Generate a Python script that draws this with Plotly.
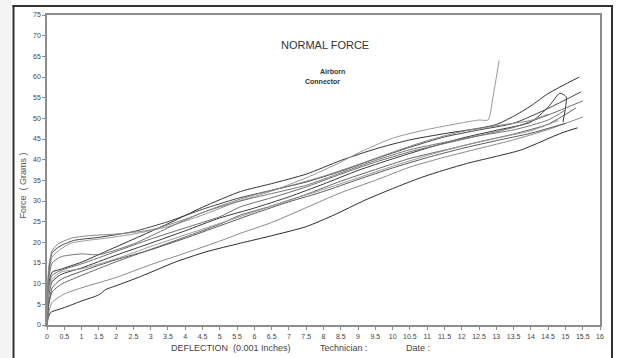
import plotly.graph_objects as go

# ---- data (deflection in 0.001 in, force in grams) ----
xA = [0,0.03,0.1,0.5,1,1.5,1.7,2,2.7,3.3,3.7,4.6,5.6,6.5,7.5,8.3,9.2,10,10.8,11.5,12.2,13,13.7,14.2,14.9,15.35]
yA = [0,1.5,3,4.2,5.8,7.3,8.6,9.5,11.7,13.8,15.2,17.7,19.8,21.6,23.8,26.6,30.2,33,35.6,37.5,39.2,40.8,42.3,44,46.5,47.7]
xB = [0,0.05,0.15,0.5,1,2,3,4,5,5.6,6.5,7.5,8.5,9.5,10.5,11.5,12.5,13.5,14.5,15.5]
yB = [0,3,5.5,7.5,9,11.5,14.6,17.4,20.3,22.2,24.8,28.4,32,35,38.2,40.6,42.7,44.8,47.3,50.3]
xC = [0,0.05,0.15,0.4,1,2,3,4,5,5.6,6.5,7.5,8.5,9.5,10.5,11.5,12.5,13.5,14.5,15.3]
yC = [0,5,8,9.8,12,15.3,18.3,21.3,24.4,26.6,28.8,31.6,34.8,37.6,40.3,42.3,44.3,46.2,48.6,52.5]
xD = [0,0.05,0.15,0.4,1,2,3,4,5,6,7,8,9,10,11,12,13,14,14.5,14.84,15.02,14.93]
yD = [0,7,10.5,12.2,13.8,16.9,19.8,22.8,25.9,28.3,31,34.1,37.4,40.2,42.8,45.2,47.1,49.1,52.7,56.1,55.2,49.1]
xE = [0,0.05,0.15,0.4,1,2,3,4,5,5.6,6.5,7.5,8.5,9.5,10.5,11.5,12.5,13.5,14.5,15.5]
yE = [0,9,12,13.2,14.8,17.8,20.8,23.5,26.2,28.6,30.8,33.4,36.5,39.4,41.9,43.9,45.8,47.8,50.8,54.2]
xF = [0,0.05,0.15,0.4,1,1.7,2.7,3.5,4.5,5.6,6.5,7.5,8.5,9.5,10.5,11.5,12.5,13,13.5,14,14.5,15.4]
yF = [0,10,12.8,13.5,15.2,17.8,21.5,24.5,28.5,32.3,34.2,36.5,39.8,42.6,44.8,46.3,47.6,48.5,50.5,53,56,60]
xG = [0,0.05,0.15,0.4,0.7,1.2,1.7,2.5,3.5,4.5,5.5,6.5,7.5,8.5,9,10,11,12,12.5,12.76,12.9,13.08]
yG = [0,12,16.5,18.4,19.8,20.5,21,22,23.8,26.6,29.8,32.4,35.6,39.4,41.6,45.2,47.3,48.9,49.6,49.6,55,64]
xH = [0,0.05,0.15,0.4,0.8,1.5,2.5,3.5,4.5,5.5,6.5,7.5,8.5,9.5,10.5,11.5,12.5,13.5,14.5,15.45]
yH = [0,13,17.5,19.2,20.5,21.2,22.6,25,28,30.6,32.6,34.6,37.2,40.2,43,45.5,47.2,48.8,52.4,56.4]
xI = [0,0.05,0.15,0.4,1,1.5,2.5,3.5,4.5,5.5,6.5,7.5,8.5,9.5,10.5,11.5,12.5,13.5,14.5,15.0]
yI = [0,11,15,16.5,17.2,17,19.6,23.5,27.2,29.8,31.8,33.8,36.8,39.8,42.4,44.2,45.8,47.2,49.6,52]
xJ = [0,0.05,0.15,0.4,1,2,3,4,5,6,7,8,9,10,11,12,13,14,14.8]
yJ = [0,8,11,12.8,13.6,16,19,21.8,24.6,27.4,30.2,32.8,35.6,38.4,41,43.3,45.2,47,49.5]
xK = [0,0.05,0.15,0.4,1,2,3,4,5,6,7,8,9,10,11,12,13,14,15]
yK = [0,5,9,11,13,15.8,18.2,21,24,27,29.8,32.3,35.2,38,40.5,42.7,44.6,46.4,48.8]
xL = [0,0.05,0.15,0.3,0.7,1.2,2,3,4,5,6,7,8,9,10,11,12,13,14,14.5]
yL = [0,14,18,19.5,21,21.6,22,23,25.6,28.8,31.5,33.6,36,38.8,41.8,44.6,46.8,48.2,49.5,51]

series = [(xA, yA, "#2a2a2a"), (xB, yB, "#8a8a8a"), (xC, yC, "#666666"),
          (xD, yD, "#3a3a3a"), (xE, yE, "#6e6e6e"), (xF, yF, "#333333"),
          (xG, yG, "#9a9a9a"), (xH, yH, "#444444"), (xI, yI, "#777777"),
          (xJ, yJ, "#999999"), (xK, yK, "#5a5a5a"), (xL, yL, "#888888")]

x_ticks = [i * 0.5 for i in range(33)]
x_labels = [("%g" % v) for v in x_ticks]
y_ticks = list(range(0, 80, 5))

fig = go.Figure()
for xs, ys, col in series:
    fig.add_trace(go.Scatter(x=xs, y=ys, mode="lines",
                             line=dict(color=col, width=1, shape="spline", smoothing=0.6),
                             showlegend=False, hoverinfo="skip"))

font = "Liberation Sans, Arial, sans-serif"
fig.update_layout(
    width=618, height=358,
    margin=dict(l=47, r=18, t=15, b=33),
    paper_bgcolor="white", plot_bgcolor="white",
    font=dict(family=font, color="#333"),
    xaxis=dict(range=[0, 16], tickvals=x_ticks, ticktext=x_labels,
               showgrid=False, zeroline=False, showline=True, mirror=True,
               linecolor="#8c8c8c", linewidth=1.5, ticks="outside", ticklen=3,
               tickcolor="#8c8c8c", tickfont=dict(size=7, color="#444"), ticklabelstandoff=1),
    yaxis=dict(range=[0, 75], tickvals=y_ticks,
               showgrid=False, zeroline=False, showline=True, mirror=True,
               linecolor="#8c8c8c", linewidth=1.5, ticks="outside", ticklen=3,
               tickcolor="#8c8c8c", tickfont=dict(size=7, color="#444")),
)

def a(x, y, text, size, ref="paper", angle=0, color="#444"):
    return dict(x=x, y=y, xref=ref if ref == "paper" else "x", yref=ref if ref == "paper" else "y",
                text=text, showarrow=False, textangle=angle, xanchor="center", yanchor="middle",
                font=dict(size=size, color=color, family=font))

ann = [
    a(8.04, 67.7, "NORMAL FORCE", 11, ref="data", color="#333"),
    a(8.25, 61.4, "<b>Airborn</b>", 7, ref="data", color="#333"),
    a(7.98, 58.9, "<b>Connector</b>", 7, ref="data", color="#333"),
    a(-0.045, 0.45, "Force  ( Grams )", 9, angle=-90, color="#555"),
    a(0.333, -0.074, "DEFLECTION  (0.001 Inches)", 9),
    a(0.537, -0.074, "Technician :", 9),
    a(0.671, -0.074, "Date :", 9),
]
fig.update_layout(annotations=ann)

# outer frame (pixel positions converted to paper units of the 553x310 plot area)
def px(v):
    return (v - 47) / 553.0

def py(v):
    return (325 - v) / 310.0

fig.add_shape(type="rect", xref="paper", yref="paper", x0=px(0), x1=px(11), y0=py(358), y1=py(0),
              fillcolor="#f3f3f3", line=dict(width=0), layer="below")
bar = dict(width=0)
fig.add_shape(type="rect", xref="paper", yref="paper", x0=px(12.5), x1=px(14.5), y0=py(360), y1=py(5),
              fillcolor="#333", line=bar, layer="above")
fig.add_shape(type="rect", xref="paper", yref="paper", x0=px(12.5), x1=px(613), y0=py(7), y1=py(5),
              fillcolor="#333", line=bar, layer="above")
fig.add_shape(type="rect", xref="paper", yref="paper", x0=px(611), x1=px(613), y0=py(360), y1=py(5),
              fillcolor="#333", line=bar, layer="above")

fig.write_html("out.html", config={"displayModeBar": False},
               post_script="document.body.style.margin='0';document.body.style.overflow='hidden';")
